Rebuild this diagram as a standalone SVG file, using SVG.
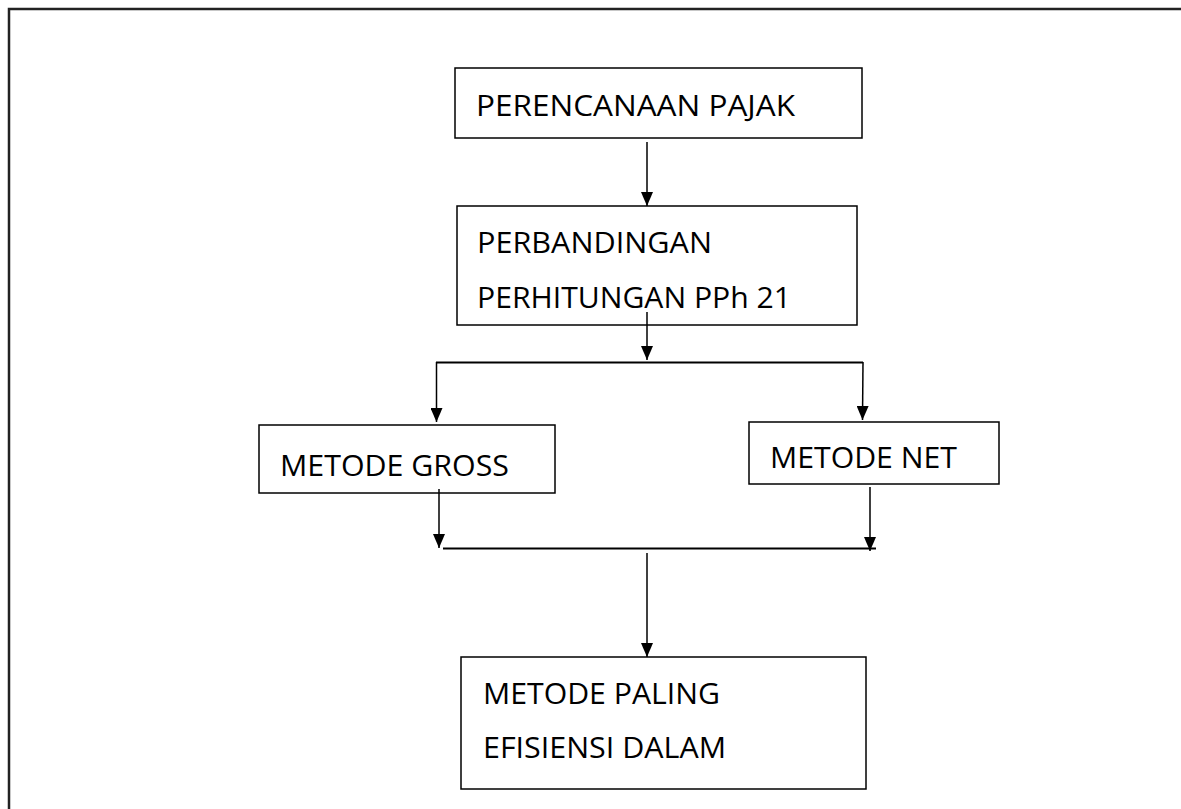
<svg xmlns="http://www.w3.org/2000/svg" width="1181" height="809" viewBox="0 0 1181 809">
<defs>
<style>
.box{fill:#fff;stroke:#000;stroke-width:1.5}
.lbl{font-family:"Open Sans","Noto Sans",sans-serif;font-size:30px;fill:#000}
.ln{stroke:#000;stroke-width:1.5;fill:none}
.hl{stroke:#000;stroke-width:2.2;fill:none}
</style>
<marker id="ah" viewBox="0 0 14 12" refX="14" refY="6" markerWidth="14" markerHeight="12" markerUnits="userSpaceOnUse" orient="auto">
<path d="M0,0 L14,6 L0,12 Z" fill="#000"/>
</marker>
</defs>
<rect width="1181" height="809" fill="#fff"/>
<path d="M9,809 V9 H1181" fill="none" stroke="#222" stroke-width="2.5"/>
<g id="n1"><rect class="box" x="455" y="68" width="407" height="70"/><text class="lbl" x="476" y="116" textLength="319" lengthAdjust="spacingAndGlyphs">PERENCANAAN PAJAK</text></g>
<g id="n2"><rect class="box" x="457" y="206" width="400" height="119"/><text class="lbl" x="477" y="253" textLength="235" lengthAdjust="spacingAndGlyphs">PERBANDINGAN</text><text class="lbl" x="477" y="308" textLength="314" lengthAdjust="spacingAndGlyphs">PERHITUNGAN PPh 21</text></g>
<g id="n3"><rect class="box" x="259" y="425" width="296" height="68"/><text class="lbl" x="280" y="476" textLength="229" lengthAdjust="spacingAndGlyphs">METODE GROSS</text></g>
<g id="n4"><rect class="box" x="749" y="422" width="250" height="62"/><text class="lbl" x="770" y="468" textLength="187" lengthAdjust="spacingAndGlyphs">METODE NET</text></g>
<g id="n5"><rect class="box" x="461" y="657" width="405" height="132"/><text class="lbl" x="483" y="704" textLength="237" lengthAdjust="spacingAndGlyphs">METODE PALING</text><text class="lbl" x="483" y="758" textLength="243" lengthAdjust="spacingAndGlyphs">EFISIENSI DALAM</text></g>
<g id="connectors">
<line class="ln" x1="647" y1="142" x2="647" y2="206" marker-end="url(#ah)"/>
<line class="ln" x1="647" y1="312" x2="647" y2="360" marker-end="url(#ah)"/>
<line class="hl" x1="436" y1="362.5" x2="863" y2="362.5"/>
<line class="ln" x1="436.5" y1="362" x2="436.5" y2="422" marker-end="url(#ah)"/>
<line class="ln" x1="863" y1="362" x2="862.5" y2="420" marker-end="url(#ah)"/>
<line class="ln" x1="439" y1="489" x2="439" y2="548" marker-end="url(#ah)"/>
<line class="ln" x1="870" y1="487" x2="870" y2="551" marker-end="url(#ah)"/>
<line class="hl" x1="443" y1="548.5" x2="876" y2="548.5"/>
<line class="ln" x1="647" y1="553" x2="647" y2="657" marker-end="url(#ah)"/>
</g>
</svg>
